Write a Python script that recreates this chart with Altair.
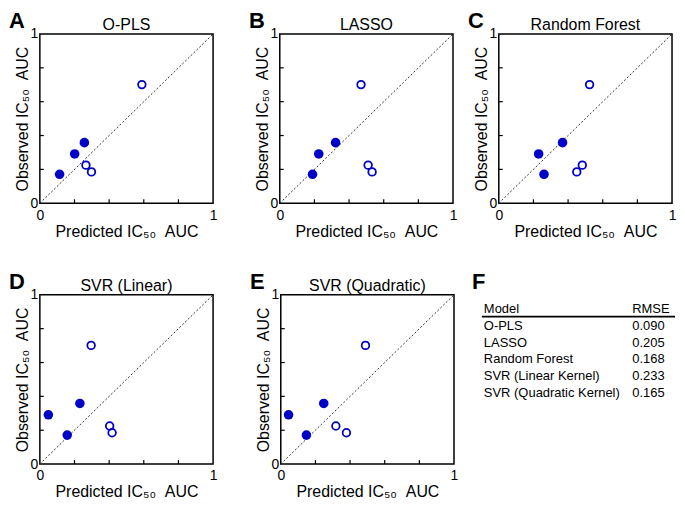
import altair as alt
import pandas as pd

# ---------------- data ----------------
panel_letters = ["A", "B", "C", "D", "E"]
panel_titles = ["O-PLS", "LASSO", "Random Forest", "SVR (Linear)", "SVR (Quadratic)"]

observed_filled = [0.171, 0.291, 0.358]
observed_open = [0.225, 0.185, 0.701]

pred_filled_A = [0.114, 0.201, 0.257]
pred_open_A = [0.266, 0.298, 0.589]
pred_filled_B = [0.189, 0.225, 0.322]
pred_open_B = [0.510, 0.533, 0.469]
pred_filled_C = [0.261, 0.230, 0.368]
pred_open_C = [0.482, 0.450, 0.524]
pred_filled_D = [0.158, 0.049, 0.231]
pred_open_D = [0.403, 0.417, 0.296]
pred_filled_E = [0.148, 0.045, 0.248]
pred_open_E = [0.318, 0.379, 0.489]

table_models = ["O-PLS", "LASSO", "Random Forest", "SVR (Linear Kernel)", "SVR (Quadratic Kernel)"]
table_rmse = ["0.090", "0.205", "0.168", "0.233", "0.165"]

axis_label_values = [0, 1]
tick_values = [0.2, 0.4, 0.6, 0.8]
diagonal = [0, 1]

# ---------------- style ----------------
FONT = "Liberation Sans"
BLUE = "#0000C8"
NB = "\u00a0"
W, H = 174, 170
WF = 194


def panel(letter, title, pf, po):
    sx = alt.Scale(domain=[0, 1], nice=False, zero=False)
    sy = alt.Scale(domain=[0, 1], nice=False, zero=False)
    common = dict(values=axis_label_values, format="d", ticks=False, domain=False,
                  grid=False, labelFlush=False, labelFontSize=14, titleFontSize=16,
                  titleFontWeight="normal", labelColor="black", titleColor="black",
                  labelFont=FONT, titleFont=FONT)
    xaxis = alt.Axis(title="Predicted IC₅₀" + NB + NB + "AUC", labelPadding=5, titlePadding=1, **common)
    yaxis = alt.Axis(title="Observed IC₅₀" + NB + NB + "AUC", labelPadding=2, titlePadding=0, **common)

    def X(f):
        return alt.X(f, type="quantitative", scale=sx, axis=xaxis)

    def Y(f):
        return alt.Y(f, type="quantitative", scale=sy, axis=yaxis)

    diag_layer = alt.Chart(pd.DataFrame({"x": diagonal, "y": diagonal})).mark_line(
        color="#333333", strokeWidth=1, strokeDash=[2, 2]).encode(x=X("x"), y=Y("y"))
    ticks_df = pd.DataFrame({"t": tick_values})
    xt = alt.Chart(ticks_df).mark_rule(color="black", strokeWidth=1.2).encode(
        x=X("t"), y=alt.value(H), y2=alt.value(H - 4))
    yt = alt.Chart(ticks_df).mark_rule(color="black", strokeWidth=1.2).encode(
        y=Y("t"), x=alt.value(0), x2=alt.value(4))
    filled = alt.Chart(pd.DataFrame({"x": pf, "y": observed_filled})).mark_point(
        shape="circle", filled=True, color=BLUE, size=92, opacity=1).encode(x=X("x"), y=Y("y"))
    opened = alt.Chart(pd.DataFrame({"x": po, "y": observed_open})).mark_point(
        shape="circle", filled=False, color=BLUE, size=58, strokeWidth=1.8, opacity=1).encode(
        x=X("x"), y=Y("y"))
    lab = alt.Chart(pd.DataFrame({"t": [letter]})).mark_text(
        font=FONT, fontSize=22, fontWeight="bold", align="left", baseline="top",
        color="black").encode(text="t:N", x=alt.value(-31), y=alt.value(-23))
    ttl = alt.Chart(pd.DataFrame({"t": [title]})).mark_text(
        font=FONT, fontSize=16, align="center", baseline="alphabetic",
        color="black").encode(text="t:N", x=alt.value(W / 2), y=alt.value(-4))
    return alt.layer(diag_layer, xt, yt, filled, opened, lab, ttl).properties(
        width=W, height=H)


def table_panel():
    rows = pd.DataFrame({"model": ["Model"] + table_models,
                         "rmse": ["RMSE"] + table_rmse,
                         "row": list(range(len(table_models) + 1))})
    ys = alt.Scale(domain=[-0.82, H / 17 - 0.82], reverse=True)
    yenc = alt.Y("row:Q", scale=ys, axis=None)
    m = alt.Chart(rows).mark_text(font=FONT, fontSize=13, align="left", baseline="middle",
                                  color="black").encode(text="model:N", x=alt.value(2), y=yenc)
    r = alt.Chart(rows).mark_text(font=FONT, fontSize=13, align="left", baseline="middle",
                                  color="black").encode(text="rmse:N", x=alt.value(151), y=yenc)
    line = alt.Chart(pd.DataFrame({"t": ["F"]})).mark_rule(color="black", strokeWidth=1.8).encode(
        x=alt.value(0), x2=alt.value(WF),
        y=alt.YDatum(0.47, type="quantitative", scale=ys, axis=None))
    lab = alt.Chart(pd.DataFrame({"t": ["F"]})).mark_text(
        font=FONT, fontSize=22, fontWeight="bold", align="left", baseline="top",
        color="black").encode(text="t:N", x=alt.value(-10), y=alt.value(-23))
    return alt.layer(line, m, r, lab).properties(
        width=WF, height=H, view=alt.ViewBackground(stroke="transparent"))


A = panel("A", panel_titles[0], pred_filled_A, pred_open_A)
B = panel("B", panel_titles[1], pred_filled_B, pred_open_B)
C = panel("C", panel_titles[2], pred_filled_C, pred_open_C)
D = panel("D", panel_titles[3], pred_filled_D, pred_open_D)
E = panel("E", panel_titles[4], pred_filled_E, pred_open_E)
F = table_panel()

row1 = alt.hconcat(alt.hconcat(A, B, spacing=30), C, spacing=9)
row2 = alt.hconcat(alt.hconcat(D, E, spacing=31), F, spacing=12)

chart = alt.vconcat(row1, row2, spacing=30).properties(
    padding=0, background="white"
).configure_view(stroke="black", strokeWidth=1.5)

chart.save("out.html", embed_options={"renderer": "svg", "actions": False})
